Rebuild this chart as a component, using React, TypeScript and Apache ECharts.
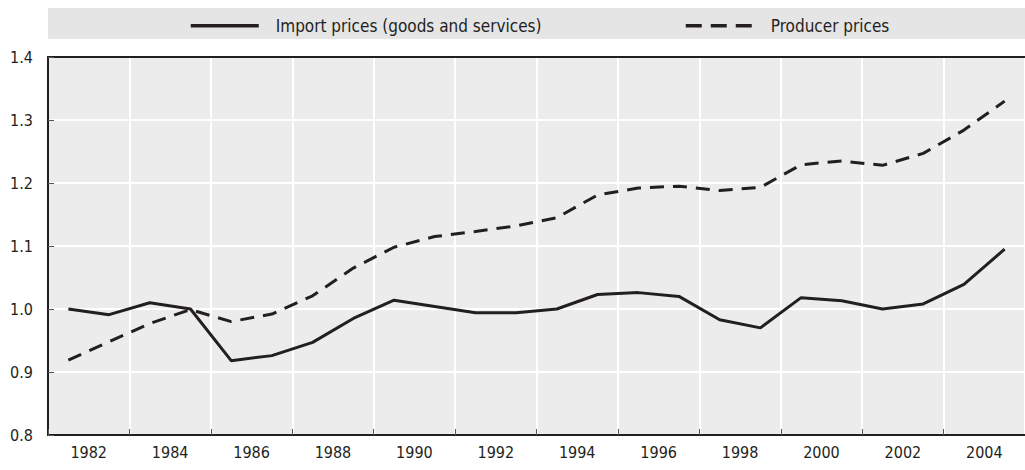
import React, { useEffect, useRef } from "react";
import * as echarts from "echarts";

const years: string[] = [
  "1981", "1982", "1983", "1984", "1985", "1986", "1987", "1988",
  "1989", "1990", "1991", "1992", "1993", "1994", "1995", "1996",
  "1997", "1998", "1999", "2000", "2001", "2002", "2003", "2004",
];

const tickLabels: string[] = [
  "1982", "1984", "1986", "1988", "1990", "1992",
  "1994", "1996", "1998", "2000", "2002", "2004",
];

const importPrices: number[] = [
  1.0, 0.991, 1.01, 1.0, 0.918, 0.926, 0.947, 0.985,
  1.014, 1.004, 0.994, 0.994, 1.0, 1.023, 1.026, 1.02,
  0.983, 0.97, 1.018, 1.013, 1.0, 1.008, 1.039, 1.095,
];

const producerPrices: number[] = [
  0.919, 0.948, 0.977, 0.999, 0.98, 0.992, 1.021, 1.065,
  1.098, 1.115, 1.123, 1.132, 1.145, 1.181, 1.192, 1.195,
  1.188, 1.193, 1.229, 1.235, 1.228, 1.247, 1.284, 1.33,
];

const seriesNames = ["Import prices (goods and services)", "Producer prices"];

const FONT = "'DejaVu Sans Condensed', 'Liberation Sans Narrow', sans-serif";
const INK = "#231f20";

export default function App() {
  const ref = useRef<HTMLDivElement>(null);

  useEffect(() => {
    if (!ref.current) return;
    const chart = echarts.init(ref.current, undefined, { renderer: "svg" });
    const legendCommon = {
      top: 12,
      itemWidth: 68,
      itemHeight: 22,
      itemStyle: { opacity: 0, borderWidth: 0 },
      textStyle: {
        fontFamily: FONT,
        fontSize: 17,
        color: INK,
        padding: [0, 0, 0, 12],
      },
    };
    chart.setOption({
      animation: false,
      graphic: [
        {
          type: "rect",
          shape: { x: 48, y: 8, width: 977, height: 31 },
          style: { fill: "#e5e5e6" },
          z: -10,
        },
      ],
      legend: [
        {
          ...legendCommon,
          left: 184,
          data: [seriesNames[0]],
          lineStyle: { width: 3.5, type: "solid", color: INK },
        },
        {
          ...legendCommon,
          left: 679,
          data: [seriesNames[1]],
          lineStyle: { width: 3.5, type: [16, 9], color: INK },
        },
      ],
      grid: {
        left: 48,
        top: 57,
        width: 982,
        height: 378,
        show: true,
        backgroundColor: "#ececec",
        borderWidth: 0,
      },
      xAxis: [
        {
          type: "category",
          data: years,
          boundaryGap: true,
          show: false,
        },
        {
          type: "category",
          data: tickLabels,
          boundaryGap: true,
          position: "bottom",
          axisLine: { show: true, lineStyle: { color: INK, width: 2 } },
          axisTick: {
            show: true,
            inside: true,
            length: 6,
            interval: 0,
            lineStyle: { color: "#555", width: 1 },
          },
          axisLabel: {
            interval: 0,
            margin: 9,
            fontFamily: FONT,
            fontSize: 16,
            color: INK,
          },
          splitLine: {
            show: true,
            interval: 0,
            lineStyle: { color: "#ffffff", width: 2 },
          },
        },
        {
          type: "category",
          data: tickLabels,
          position: "top",
          axisLine: { show: true, lineStyle: { color: INK, width: 2 } },
          axisTick: { show: false },
          axisLabel: { show: false },
          splitLine: { show: false },
        },
      ],
      yAxis: {
        type: "value",
        min: 0.8,
        max: 1.4,
        interval: 0.1,
        axisLine: { show: true, lineStyle: { color: INK, width: 2 } },
        axisTick: {
          show: true,
          inside: true,
          length: 6,
          lineStyle: { color: "#555", width: 1 },
        },
        axisLabel: {
          margin: 15,
          fontFamily: FONT,
          fontSize: 16,
          color: INK,
          formatter: (v: number) => v.toFixed(1),
        },
        splitLine: { show: true, lineStyle: { color: "#ffffff", width: 2 } },
      },
      series: [
        {
          name: seriesNames[0],
          type: "line",
          xAxisIndex: 0,
          data: importPrices,
          symbol: "none",
          lineStyle: { color: INK, width: 3, type: "solid" },
          itemStyle: { color: INK },
        },
        {
          name: seriesNames[1],
          type: "line",
          xAxisIndex: 0,
          data: producerPrices,
          symbol: "none",
          lineStyle: { color: INK, width: 3, type: [14, 9] },
          itemStyle: { color: INK },
        },
      ],
    });
    return () => chart.dispose();
  }, []);

  return (
    <div
      ref={ref}
      style={{ position: "absolute", left: 0, top: 0, width: 1025, height: 470 }}
    />
  );
}
